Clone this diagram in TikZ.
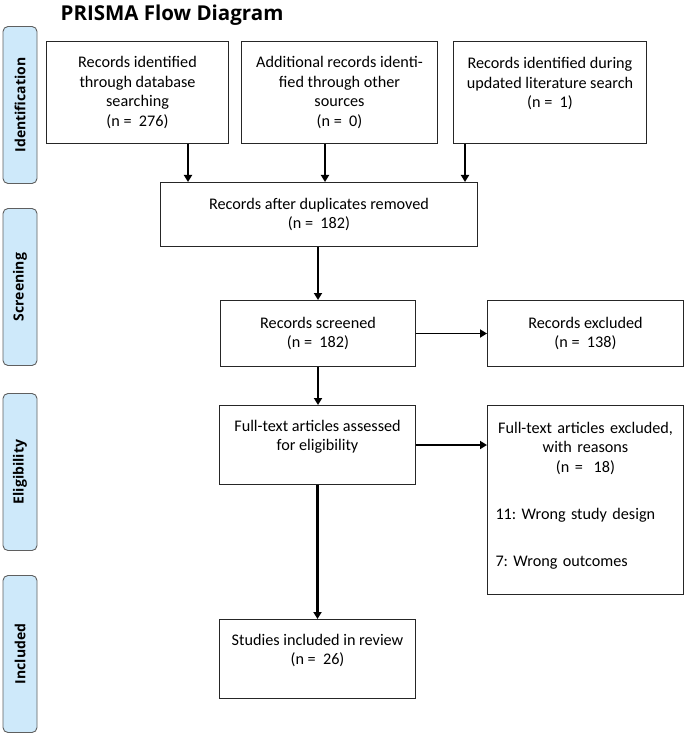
\documentclass[tikz,border=0pt]{standalone}
\usepackage{fontspec}
\setmainfont{Carlito}
\newfontfamily\headfont{Open Sans}
\usetikzlibrary{positioning,calc,arrows.meta}

\definecolor{phaseblue}{RGB}{206,233,250}
\definecolor{phaseline}{RGB}{95,95,95}

\tikzset{
  box/.style={draw=black!85, line width=1pt, align=center, anchor=north west, inner sep=2pt,
    font=\fontsize{16.2}{19.5}\selectfont},
  phase/.style={draw=phaseline, line width=0.9pt, fill=phaseblue, rounded corners=5pt, rotate=90,
    minimum width=157pt, minimum height=34pt, inner sep=0pt,
    font=\headfont\bfseries\fontsize{14}{16}\selectfont},
  down/.style={-{Triangle[length=7pt,width=8pt]}, line width=2.2pt},
  side/.style={-{Triangle[length=7pt,width=8pt]}, line width=1.8pt}
}

\begin{document}
\begin{tikzpicture}[x=1pt,y=-1pt]
    \useasboundingbox (0,0) rectangle (685,738);
    \node[font=\headfont\bfseries\fontsize{20.5}{23}\selectfont] (title) at (172,15) {PRISMA Flow Diagram};

    % phases
    \node[phase] (ident) at (20,105) {Identification};
    \node[phase] (scrn) at (20,287) {Screening};
    \node[phase] (elig) at (20,472) {Eligibility};
    \node[phase] (incl) at (20,654) {Included};

    % boxes
    \node[box, minimum width=182, minimum height=102] (db) at (46,41) {Records identified\\through database\\searching\\(n =\ \ 276)};
    \node[box, minimum width=196, minimum height=102] (add) at (241,41) {Additional records identi-\\fied through other\\sources\\(n =\ \ 0)};
    \node[box, minimum width=193, minimum height=102] (upd) at (453,41) {Records identified during\\updated literature search\\(n =\ \ 1)\\ \mbox{}};
    \node[box, minimum width=317, minimum height=64] (dup) at (160,182) {Records after duplicates removed\\(n =\ \ 182)};
    \node[box, minimum width=195, minimum height=66] (scr) at (220,300) {Records screened\\(n =\ \ 182)};
    \node[box, minimum width=196, minimum height=66] (excl) at (487,300) {Records excluded\\(n =\ \ 138)};
    \node[box, minimum width=196, minimum height=79] (ft) at (219,405) {Full-text articles assessed\\for eligibility\\ \mbox{}};
    \node[box, minimum width=196, minimum height=189, text width=180] (ftx) at (487,405)
      {Full-text articles excluded,\\with reasons\\(n =\ \ 18)\\[28pt]
       \makebox[\linewidth][l]{11:\ Wrong study design}\\[27pt]
       \makebox[\linewidth][l]{7:\ Wrong outcomes}\rule[-12pt]{0pt}{12pt}};
    \node[box, minimum width=196, minimum height=79] (inc) at (219,619) {Studies included in review\\(n =\ \ 26)\\ \mbox{}};

    % arrows
    \draw[down] ([xshift=142pt]db.south west) -- ([xshift=142pt]db.south west |- dup.north);
    \draw[down] ([xshift=84pt]add.south west) -- ([xshift=84pt]add.south west |- dup.north);
    \draw[down] ([xshift=12pt]upd.south west) -- ([xshift=12pt]upd.south west |- dup.north);
    \draw[down] (scr.north |- dup.south) -- (scr.north);
    \draw[down] (scr.south) -- (scr.south |- ft.north);
    \draw[down] (ft.south) -- (ft.south |- inc.north);
    \draw[side] (scr.east) -- (scr.east -| excl.west);
    \draw[side] (ft.east) -- (ft.east -| ftx.west);
\end{tikzpicture}
\end{document}
